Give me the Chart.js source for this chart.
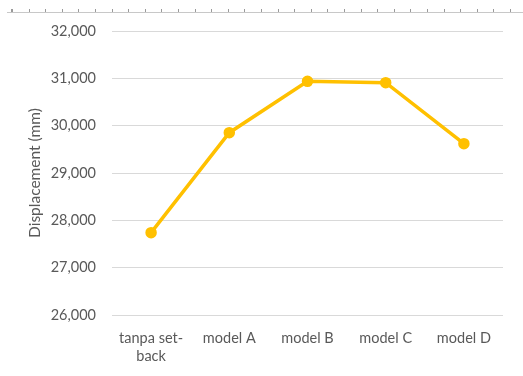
<!DOCTYPE html>
<html><head><meta charset="utf-8">
<script src="https://cdn.jsdelivr.net/npm/chart.js@4"></script>
<style>
html,body{margin:0;padding:0;background:#fff;}
#wrap{position:relative;width:523px;height:376px;}
#ruler{position:absolute;left:7px;top:9px;width:516px;height:3px;border-bottom:1px solid #c8c8c8;
background:repeating-linear-gradient(to right,#9a9a9a 0,#9a9a9a 1px,transparent 1px,transparent 16.6px);background-position:5px 0;}
canvas{position:absolute;left:0;top:0;}
</style></head>
<body><div id="wrap"><canvas id="c" width="523" height="376"></canvas><div id="ruler"></div></div>
<script>
const categories = [["tanpa set-","back"], "model A", "model B", "model C", "model D"];
const displacement = [27740, 29852, 30937, 30909, 29620];
const yTicks = [26000, 27000, 28000, 29000, 30000, 31000, 32000];
const FONT = "Lato, 'Open Sans', sans-serif";
new Chart(document.getElementById('c'), {
  type: 'line',
  data: { labels: categories, datasets: [{
    data: displacement, borderColor: '#FFC000', backgroundColor: '#FFC000',
    borderWidth: 3.5, pointRadius: 4, pointHoverRadius: 4, tension: 0, fill: false
  }]},
  options: {
    responsive: false, animation: false, devicePixelRatio: 1,
    layout: { padding: { top: 31, right: 20, left: 0, bottom: 0 } },
    plugins: { legend: { display: false }, tooltip: { enabled: false } },
    scales: {
      x: {
        offset: true,
        grid: { display: false, drawTicks: false, offset: true }, border: { display: false },
        ticks: { color: '#595959', font: { family: FONT, size: 14.5 }, padding: 15, maxRotation: 0, autoSkip: false },
        afterFit(s) { s.height = 61; }
      },
      y: {
        min: 26000, max: 32000,
        afterBuildTicks(s) { s.ticks = yTicks.map(v => ({ value: v })); },
        grid: { color: '#D9D9D9', lineWidth: 1, drawTicks: false }, border: { display: false },
        ticks: { color: '#595959', font: { family: FONT, size: 14.5 }, padding: 16,
          callback: v => v.toLocaleString('en-US') },
        title: { display: true, text: 'Displacement (mm)', color: '#595959', font: { family: FONT, size: 15.5 }, padding: { top: 26, bottom: 0 } },
        afterFit(s) { s.width = 112; }
      }
    }
  }
});
</script></body></html>
